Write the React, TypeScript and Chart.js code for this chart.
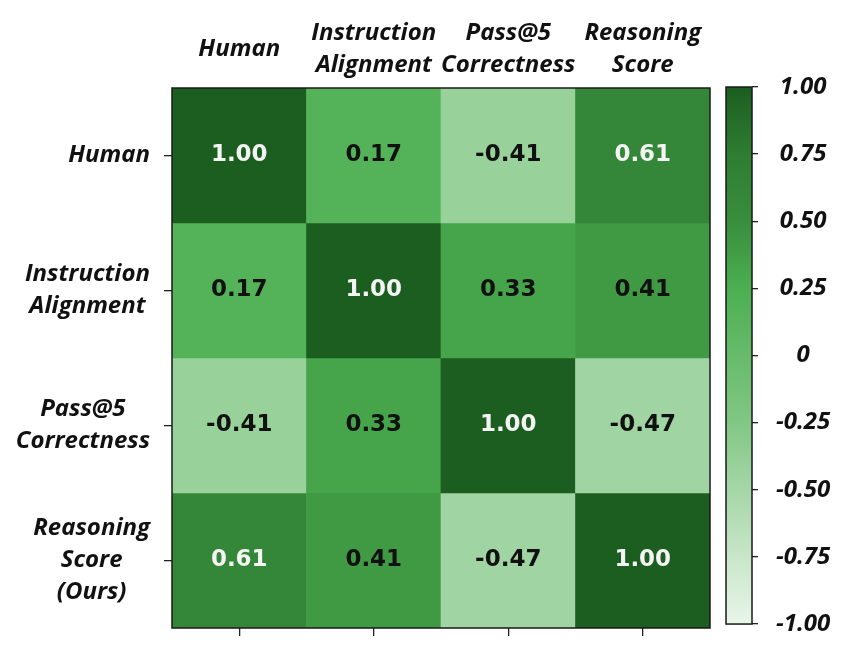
import React, { useEffect, useRef } from "react";
import { Chart, registerables } from "chart.js";

Chart.register(...registerables);

const xLabels: string[][] = [["Human"], ["Instruction", "Alignment"], ["Pass@5", "Correctness"], ["Reasoning", "Score"]];
const yLabels: string[][] = [["Human"], ["Instruction", "Alignment"], ["Pass@5", "Correctness"], ["Reasoning", "Score", "(Ours)"]];

const rowHuman = [1.0, 0.17, -0.41, 0.61];
const rowInstruction = [0.17, 1.0, 0.33, 0.41];
const rowPass = [-0.41, 0.33, 1.0, -0.47];
const rowReasoning = [0.61, 0.41, -0.47, 1.0];
const rows = [rowHuman, rowInstruction, rowPass, rowReasoning];

const colorbarTicks = [-1, -0.75, -0.5, -0.25, 0, 0.25, 0.5, 0.75, 1];
const cmapColors = ["#e8f5e9", "#c8e6c9", "#a5d6a7", "#81c784", "#66bb6a", "#4caf50", "#388e3c", "#2e7d32", "#1b5e20"];

const LABEL_FONT = { family: "'Open Sans'", weight: "bold" as const, style: "italic" as const, size: 24, lineHeight: 1.33 };

function hexToRgb(h: string) {
  const n = parseInt(h.slice(1), 16);
  return [(n >> 16) & 255, (n >> 8) & 255, n & 255];
}
function colorFor(v: number) {
  const t = Math.max(0, Math.min(1, (v + 1) / 2)) * (cmapColors.length - 1);
  const i = Math.min(cmapColors.length - 2, Math.floor(t));
  const f = t - i;
  const a = hexToRgb(cmapColors[i]);
  const b = hexToRgb(cmapColors[i + 1]);
  const c = a.map((x, k) => Math.round(x + (b[k] - x) * f));
  return `rgb(${c[0]},${c[1]},${c[2]})`;
}

const heatPlugin = {
  id: "heatExtras",
  afterDatasetsDraw(chart: any) {
    const { ctx, chartArea } = chart;
    ctx.save();
    ctx.font = "bold 23px 'DejaVu Sans'";
    ctx.textAlign = "center";
    ctx.textBaseline = "middle";
    rows.forEach((row, i) => {
      const meta = chart.getDatasetMeta(i);
      row.forEach((v, j) => {
        const el = meta.data[j];
        const cy = (el.y + el.base) / 2;
        ctx.fillStyle = v > 0.5 ? "#f4f4f4" : "#111111";
        ctx.fillText(v.toFixed(2), el.x, cy);
      });
    });
    ctx.strokeStyle = "#1a1a1a";
    ctx.lineWidth = 1.5;
    ctx.strokeRect(chartArea.left, chartArea.top, chartArea.right - chartArea.left, chartArea.bottom - chartArea.top);
    const ys = chart.scales.y;
    ctx.font = "italic bold 24px 'Open Sans'";
    ctx.fillStyle = "#111111";
    const L = 32;
    yLabels.forEach((lines, i) => {
      const y = ys.getPixelForValue(i);
      const w = Math.max(...lines.map((s) => ctx.measureText(s).width));
      const right = chartArea.left - 8 - 14;
      const cx = right - w / 2;
      lines.forEach((s, k) => {
        ctx.fillText(s, cx, y + (k - (lines.length - 1) / 2) * L);
      });
    });
    ctx.restore();
  },
};

const cbPlugin = {
  id: "cbFrame",
  afterDatasetsDraw(chart: any) {
    const { ctx, chartArea } = chart;
    ctx.save();
    ctx.strokeStyle = "#1a1a1a";
    ctx.lineWidth = 1.5;
    ctx.strokeRect(chartArea.left, chartArea.top, chartArea.right - chartArea.left, chartArea.bottom - chartArea.top);
    ctx.restore();
  },
};

export default function App() {
  const mainRef = useRef<HTMLCanvasElement>(null);
  const cbRef = useRef<HTMLCanvasElement>(null);

  useEffect(() => {
    const datasets = rows.map((row, i) => ({
      label: yLabels[i].join(" "),
      data: row.map(() => [i - 0.5, i + 0.5]),
      backgroundColor: row.map((v) => colorFor(v)),
      borderWidth: 0,
      grouped: false,
      barPercentage: 1,
      categoryPercentage: 1,
      xAxisID: "x",
      yAxisID: "y",
    }));

    const main = new Chart(mainRef.current as HTMLCanvasElement, {
      type: "bar",
      data: { labels: xLabels as any, datasets: datasets as any },
      options: {
        responsive: false,
        animation: false,
        layout: { padding: { left: 0, right: 10, top: 0, bottom: 0 } },
        plugins: { legend: { display: false }, tooltip: { enabled: false } },
        scales: {
          x: {
            type: "category",
            position: "top",
            offset: true,
            grid: { display: false, offset: true },
            border: { display: false },
            ticks: { font: LABEL_FONT, color: "#111111", padding: 15, maxRotation: 0, minRotation: 0, autoSkip: false, crossAlign: "center" },
            afterFit: (s: any) => { s.height = 88; },
          },
          x2: {
            type: "category",
            position: "bottom",
            labels: xLabels.map((l) => l.join(" ")),
            offset: true,
            grid: { display: true, offset: false, drawOnChartArea: false, drawTicks: true, tickLength: 8, color: "#222222", lineWidth: 1.3 },
            border: { display: false },
            ticks: { display: false },
            afterFit: (s: any) => { s.height = 30; },
          },
          y: {
            type: "linear",
            position: "left",
            min: -0.5,
            max: 3.5,
            reverse: true,
            afterBuildTicks: (s: any) => { s.ticks = [0, 1, 2, 3].map((v) => ({ value: v })); },
            grid: { drawOnChartArea: false, drawTicks: true, tickLength: 8, color: "#222222", lineWidth: 1.3 },
            border: { display: false },
            ticks: { display: false },
            afterFit: (s: any) => { s.width = 172; },
          },
        },
      } as any,
      plugins: [heatPlugin],
    });

    const cb = new Chart(cbRef.current as HTMLCanvasElement, {
      type: "bar",
      data: {
        labels: ["cb"],
        datasets: [
          {
            data: [[colorbarTicks[0], colorbarTicks[colorbarTicks.length - 1]]] as any,
            borderWidth: 0,
            barPercentage: 1,
            categoryPercentage: 1,
            backgroundColor: (c: any) => {
              const { chart } = c;
              const ys = chart.scales.y;
              if (!ys || !chart.chartArea) return cmapColors[4];
              const y0 = ys.getPixelForValue(-1);
              const y1 = ys.getPixelForValue(1);
              const g = chart.ctx.createLinearGradient(0, y0, 0, y1);
              cmapColors.forEach((col, k) => g.addColorStop(k / (cmapColors.length - 1), col));
              return g;
            },
          },
        ],
      },
      options: {
        responsive: false,
        animation: false,
        layout: { padding: { left: 6, right: 0, top: 87, bottom: 30 } },
        plugins: { legend: { display: false }, tooltip: { enabled: false } },
        scales: {
          x: { display: false, offset: true },
          y: {
            type: "linear",
            position: "right",
            min: -1,
            max: 1,
            afterBuildTicks: (s: any) => { s.ticks = colorbarTicks.map((v) => ({ value: v })); },
            grid: { drawOnChartArea: false, drawTicks: true, tickLength: 6, color: "#222222", lineWidth: 1.3 },
            border: { display: false },
            ticks: {
              font: LABEL_FONT,
              color: "#111111",
              padding: 18,
              crossAlign: "center",
              callback: (v: any) => (Math.abs(Number(v)) < 1e-9 ? "0" : Number(v).toFixed(2)),
            },
            afterFit: (s: any) => { s.width = 107; },
          },
        },
      } as any,
      plugins: [cbPlugin],
    });

    return () => {
      main.destroy();
      cb.destroy();
    };
  }, []);

  return (
    <div style={{ position: "fixed", left: 0, top: 0, width: 859, height: 658, background: "#ffffff" }}>
      <canvas ref={mainRef} width={720} height={658} style={{ position: "absolute", left: 0, top: 0, width: 720, height: 658 }} />
      <canvas ref={cbRef} width={139} height={658} style={{ position: "absolute", left: 720, top: 0, width: 139, height: 658 }} />
    </div>
  );
}
